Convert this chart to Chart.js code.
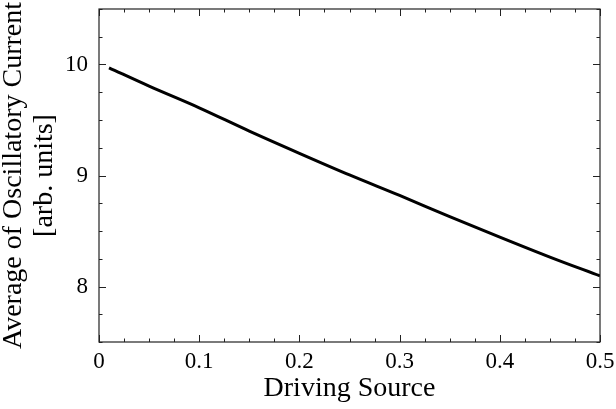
<!DOCTYPE html>
<html>
<head>
<meta charset="utf-8">
<script src="https://cdn.jsdelivr.net/npm/chart.js@4.4.0/dist/chart.umd.min.js"></script>
<style>
html,body{margin:0;padding:0;background:#fff;}
canvas{display:block;}
</style>
</head>
<body>
<canvas id="c" width="616" height="409"></canvas>
<script>
// Data
const drivingSource = [0.01, 0.05, 0.10, 0.15, 0.20, 0.25, 0.30, 0.35, 0.40, 0.45, 0.50];
const avgCurrent    = [9.97, 9.805, 9.61, 9.40, 9.20, 9.005, 8.82, 8.63, 8.445, 8.265, 8.095];
const xTickLabels = [0, 0.1, 0.2, 0.3, 0.4, 0.5];
const yTickLabels = [8, 9, 10];
const xMinorStep = 0.025;
const yMinorStep = 0.25;
const xTitle = 'Driving Source';
const yTitle = ['Average of Oscillatory Current', '[arb. units]'];

const FONT = 'Liberation Serif, Times New Roman, serif';

const innerTicks = {
  id: 'innerTicks',
  afterDraw(chart) {
    const {ctx, chartArea: a, scales: {x, y}} = chart;
    ctx.save();
    ctx.strokeStyle = '#222';
    ctx.lineWidth = 1.2;
    ctx.strokeRect(a.left, a.top, a.right - a.left, a.bottom - a.top);
    ctx.lineWidth = 1;
    const near = (v, arr) => arr.some(t => Math.abs(t - v) < 1e-6);
    ctx.beginPath();
    for (let v = x.min; v <= x.max + 1e-9; v += xMinorStep) {
      const px = Math.round(x.getPixelForValue(v)) + 0.5;
      const len = near(v, xTickLabels) ? 7 : 3.5;
      ctx.moveTo(px, a.bottom); ctx.lineTo(px, a.bottom - len);
      ctx.moveTo(px, a.top); ctx.lineTo(px, a.top + len);
    }
    for (let v = y.min; v <= y.max + 1e-9; v += yMinorStep) {
      const py = Math.round(y.getPixelForValue(v)) + 0.5;
      const len = near(v, yTickLabels) ? 7 : 3.5;
      ctx.moveTo(a.left, py); ctx.lineTo(a.left + len, py);
      ctx.moveTo(a.right, py); ctx.lineTo(a.right - len, py);
    }
    ctx.stroke();
    ctx.restore();
  }
};

new Chart(document.getElementById('c'), {
  type: 'line',
  data: {
    datasets: [{
      data: drivingSource.map((v, i) => ({x: v, y: avgCurrent[i]})),
      borderColor: '#000',
      borderWidth: 3,
      pointRadius: 0,
      cubicInterpolationMode: 'monotone',
      fill: false
    }]
  },
  options: {
    responsive: false,
    devicePixelRatio: 1,
    animation: false,
    layout: {padding: {top: 9, right: 16, left: 0, bottom: 0}},
    plugins: {legend: {display: false}, tooltip: {enabled: false}},
    scales: {
      x: {
        type: 'linear', min: 0, max: 0.5,
        border: {display: false},
        grid: {display: false, drawTicks: false},
        afterBuildTicks: s => { s.ticks = xTickLabels.map(v => ({value: v})); },
        afterFit: s => { s.height = 67; s.paddingLeft = 0; s.paddingRight = 0; },
        ticks: {
          padding: 6, color: '#000', maxRotation: 0,
          font: {family: FONT, size: 23},
          callback: v => String(+v.toFixed(2))
        },
        title: {
          display: true, text: xTitle, color: '#000',
          font: {family: FONT, size: 28, lineHeight: 1.15},
          padding: {top: 0, bottom: 4}
        }
      },
      y: {
        type: 'linear', min: 7.5, max: 10.5,
        border: {display: false},
        grid: {display: false, drawTicks: false},
        afterBuildTicks: s => { s.ticks = yTickLabels.map(v => ({value: v})); },
        afterFit: s => { s.width = 99; s.paddingTop = 0; s.paddingBottom = 0; },
        ticks: {
          padding: 11, color: '#000',
          font: {family: FONT, size: 23}
        },
        title: {
          display: true, text: yTitle, color: '#000',
          font: {family: FONT, size: 28, lineHeight: 1.08},
          padding: {top: -1, bottom: 0}
        }
      }
    }
  },
  plugins: [innerTicks]
});
</script>
</body>
</html>
